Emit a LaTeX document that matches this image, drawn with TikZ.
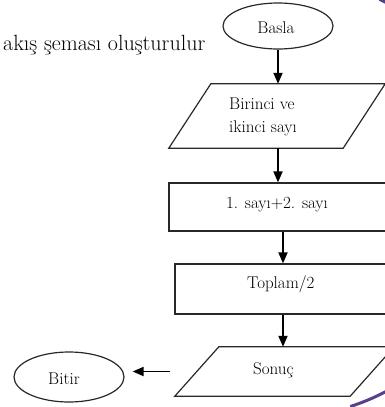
\documentclass[tikz,border=0pt]{standalone}
\usepackage{fontspec}
\usetikzlibrary{shapes.geometric,arrows.meta}
\definecolor{framegray}{RGB}{40,40,40}
\definecolor{ringpurple}{RGB}{88,64,140}
\begin{document}
\begin{tikzpicture}[x=1pt,y=-1pt,
  shapeline/.style={draw=framegray,line width=1.2pt},
  box/.style={shapeline,rectangle,inner sep=0pt},
  oval/.style={shapeline,ellipse,inner sep=0pt},
  slantbox/.style={rectangle,inner sep=0pt,draw=none},
  lbl/.style={inner sep=0pt,anchor=base west,font=\fontsize{17}{20}\selectfont},
  arr/.style={line width=1.8pt,-{Triangle[length=11pt,width=9pt]}},
  ring/.style={ringpurple,line width=3pt}]
\useasboundingbox (0,0) rectangle (385,407);
\clip (0,0) rectangle (385,407);

% corners of the decorative ring that show at the edge
\begin{scope}
  \clip (350,386) rectangle (385,407);
  \draw[ring] (283,197) circle[radius=220];
\end{scope}
\begin{scope}
  \clip (379,0) rectangle (385,4);
  \draw[ring] (283,197) circle[radius=220];
\end{scope}

% heading
\node[inner sep=0pt,anchor=base west,font=\fontsize{22}{26}\selectfont] (head) at (3,50) {akış şeması oluşturulur};

% start / end terminals
\node[oval,minimum width=110pt,minimum height=46pt] (basla) at (278,26) {};
\node[oval,minimum width=110pt,minimum height=50pt] (bitir) at (69,377) {};

% input parallelogram (box = mid-line of the slanted sides)
\node[slantbox,minimum width=174pt,minimum height=64pt] (giris) at (277,116) {};
\draw[shapeline] ([xshift=-21pt]giris.south west) -- ([xshift=21pt]giris.north west)
  -- ([xshift=21pt]giris.north east) -- ([xshift=-21pt]giris.south east) -- cycle;

% process boxes
\node[box,minimum width=221pt,minimum height=48pt] (topla) at (279.5,207) {};
\node[box,minimum width=216pt,minimum height=50pt] (bol) at (283,289) {};

% output parallelogram
\node[slantbox,minimum width=175pt,minimum height=49pt] (sonuc) at (284.5,371.5) {};
\draw[shapeline] ([xshift=-22pt]sonuc.south west) -- ([xshift=22pt]sonuc.north west)
  -- ([xshift=22pt]sonuc.north east) -- ([xshift=-22pt]sonuc.south east) -- cycle;

% texts
\node[lbl,anchor=base] (baslat) at (276,33) {Basla};
\node[lbl] (giris1) at (229,109) {Birinci ve};
\node[lbl] (giris2) at (229,132) {ikinci sayı};
\node[lbl,anchor=base] (toplat) at (277,208) {1. sayı+2. sayı};
\node[lbl] (bolt) at (247,288) {Toplam/2};
\node[lbl] (sonuct) at (253,374) {\addfontfeature{LetterSpace=7}Sonuç};
\node[lbl] (bitirt) at (48,384) {Bitir};

% flow arrows
\draw[arr] (basla.south) -- (basla.south |- giris.north);
\draw[arr] ([xshift=1pt]giris.south) -- ([xshift=1pt]giris.south |- topla.north);
\draw[arr] (bol.north |- topla.south) -- (bol.north);
\draw[arr] (bol.south) -- (bol.south |- sonuc.north);
\draw[arr] ([xshift=-26.5pt]sonuc.west) -- ([xshift=8pt]bitir.east |- sonuc.west);
\end{tikzpicture}
\end{document}
